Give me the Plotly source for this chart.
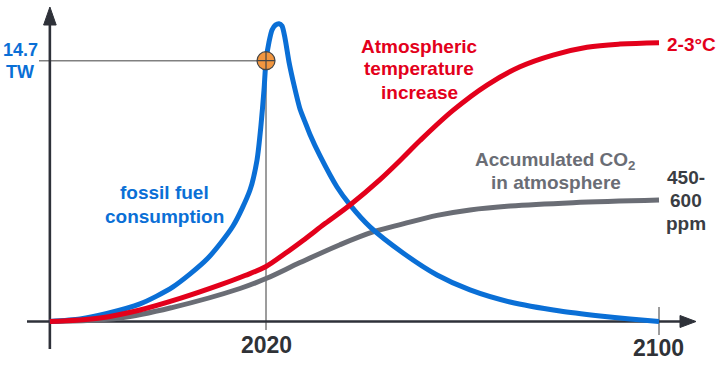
import plotly.graph_objects as go

# ---------------- data ----------------
blue_years = [1976, 1982.14, 1987.63, 1994.35, 2001.07, 2008.0, 2013.28, 2016.74, 2018.17, 2018.98,
              2019.59, 2020.0, 2020.61, 2021.22, 2021.93, 2022.64, 2023.25, 2023.86, 2024.68, 2025.7,
              2026.92, 2027.94, 2028.95, 2031.0, 2034.45, 2037.1, 2041.17, 2047.89, 2054.81, 2061.52,
              2069.67, 2079.84, 2088.0, 2094.1, 2100]
blue_tw = [0, 0.14, 0.45, 0.99, 1.95, 3.52, 5.38, 7.41, 9.1, 11.07,
           13.05, 14.7, 15.75, 16.43, 16.71, 16.79, 16.66, 15.98, 14.63, 13.33,
           11.98, 11.25, 10.54, 9.33, 7.58, 6.57, 5.33, 3.86, 2.62, 1.78,
           1.1, 0.59, 0.31, 0.14, 0]

red_years = [1976, 1986.21, 1994.35, 2002.49, 2010.63, 2015.72, 2020.0, 2023.87, 2027.53, 2032.01,
             2037.1, 2043.2, 2047.89, 2051.35, 2058.06, 2064.99, 2071.7, 2078.42, 2085.34, 2092.06,
             2100]
red_vals = [0, 0.2, 0.65, 1.3, 2.06, 2.59, 3.1, 3.83, 4.57, 5.52,
            6.57, 8.0, 9.24, 10.2, 11.9, 13.33, 14.36, 15.02, 15.46, 15.64,
            15.72]

gray_years = [1976, 1990.28, 2001.07, 2014.7, 2020.0, 2026.92, 2035.06, 2041.78, 2047.89, 2054.81,
              2061.52, 2069.67, 2082.49, 2100]
gray_vals = [0, 0.2, 0.8, 1.86, 2.42, 3.32, 4.33, 5.05, 5.5, 5.98,
             6.29, 6.51, 6.7, 6.85]

marker_year = [2020]
marker_tw = [14.7]
start_year = 1976
tick_years = [2020, 2100]
tick_labels = ["2020", "2100"]

# ---------------- geometry ----------------
W, H = 720, 374
PX_PER_YEAR = 4.9125
PX_PER_UNIT = 17.74
X0 = 1965.85
AXIS_PY = 321.5


def X(px):
    return X0 + px / PX_PER_YEAR


def Y(py):
    return (AXIS_PY - py) / PX_PER_UNIT


def P(px, py):
    return dict(x=px / W, y=1 - py / H)


BLUE = "#0A6FD6"
RED = "#E3001B"
GRAY = "#6A6D75"
DARK = "#2E3139"
FONT = "Liberation Sans, Arial, sans-serif"

fig = go.Figure()
fig.add_trace(go.Scatter(x=gray_years, y=gray_vals, mode="lines",
                         line=dict(color=GRAY, width=5, shape="spline", smoothing=1.0),
                         hoverinfo="skip"))
fig.add_trace(go.Scatter(x=blue_years, y=blue_tw, mode="lines",
                         line=dict(color=BLUE, width=5, shape="spline", smoothing=0.7),
                         hoverinfo="skip"))
fig.add_trace(go.Scatter(x=red_years, y=red_vals, mode="lines",
                         line=dict(color=RED, width=5, shape="spline", smoothing=1.0),
                         hoverinfo="skip"))
fig.add_trace(go.Scatter(x=marker_year, y=marker_tw, mode="markers",
                         marker=dict(symbol="circle-cross", size=18, color="#F2963F",
                                     line=dict(color="#454545", width=1.2)),
                         hoverinfo="skip"))

shapes = [
    # guide lines
    dict(type="line", x0=X(39), x1=marker_year[0], y0=marker_tw[0], y1=marker_tw[0],
         line=dict(color="#808080", width=1.6), layer="below"),
    dict(type="line", x0=tick_years[0], x1=tick_years[0], y0=marker_tw[0], y1=Y(330),
         line=dict(color="#3A3A3A", width=1), layer="below"),
    dict(type="line", x0=tick_years[1], x1=tick_years[1], y0=Y(307), y1=Y(335),
         line=dict(color="#3A3A3A", width=1), layer="below"),
    # x axis
    dict(type="line", x0=X(27), x1=X(682), y0=0, y1=0,
         line=dict(color=DARK, width=2.5), layer="below"),
    dict(type="path",
         path=f"M {X(680)},{Y(315.5)} L {X(696)},{Y(321.5)} L {X(680)},{Y(327.5)} Z",
         fillcolor=DARK, line=dict(color=DARK, width=1), layer="below"),
    # y axis
    dict(type="line", x0=start_year, x1=start_year, y0=Y(349), y1=Y(22),
         line=dict(color=DARK, width=2.6), layer="below"),
    dict(type="path",
         path=f"M {X(43.6)},{Y(25)} L {X(49.9)},{Y(7)} L {X(56.2)},{Y(25)} Z",
         fillcolor=DARK, line=dict(color=DARK, width=1), layer="below"),
]

labels = [
    ("14.7", 20, 50, BLUE, 18),
    ("TW", 20, 72, BLUE, 18),
    ("Atmospheric", 419, 46, RED, 19),
    ("temperature", 419, 69, RED, 19),
    ("increase", 419, 92, RED, 19),
    ("2-3°C", 691, 44, RED, 19),
    ("fossil fuel", 164, 193, BLUE, 19),
    ("consumption", 164, 216, BLUE, 19),
    ("Accumulated CO<sub>2</sub>", 555, 161, GRAY, 19),
    ("in atmosphere", 556, 183, GRAY, 19),
    ("450-", 686, 177, "#3A3D43", 19),
    ("600", 686, 200, "#3A3D43", 19),
    ("ppm", 686, 223, "#3A3D43", 19),
    (tick_labels[0], 266, 345, "#2F3237", 23),
    (tick_labels[1], 658, 348, "#2F3237", 23),
]
annotations = []
for txt, px, py, col, size in labels:
    a = P(px, py)
    annotations.append(dict(x=a["x"], y=a["y"], xref="paper", yref="paper",
                            text=f"<b>{txt}</b>", showarrow=False,
                            xanchor="center", yanchor="middle",
                            font=dict(family=FONT, size=size, color=col)))

fig.update_layout(
    width=W, height=H,
    margin=dict(l=0, r=0, t=0, b=0),
    paper_bgcolor="white", plot_bgcolor="white",
    showlegend=False,
    xaxis=dict(range=[X0, X(W)], visible=False, fixedrange=True),
    yaxis=dict(range=[Y(H), Y(0)], visible=False, fixedrange=True),
    shapes=shapes,
    annotations=annotations,
)

fig.write_html("out.html", config={"displayModeBar": False},
               post_script="document.body.style.margin='0';document.body.style.overflow='hidden';")
